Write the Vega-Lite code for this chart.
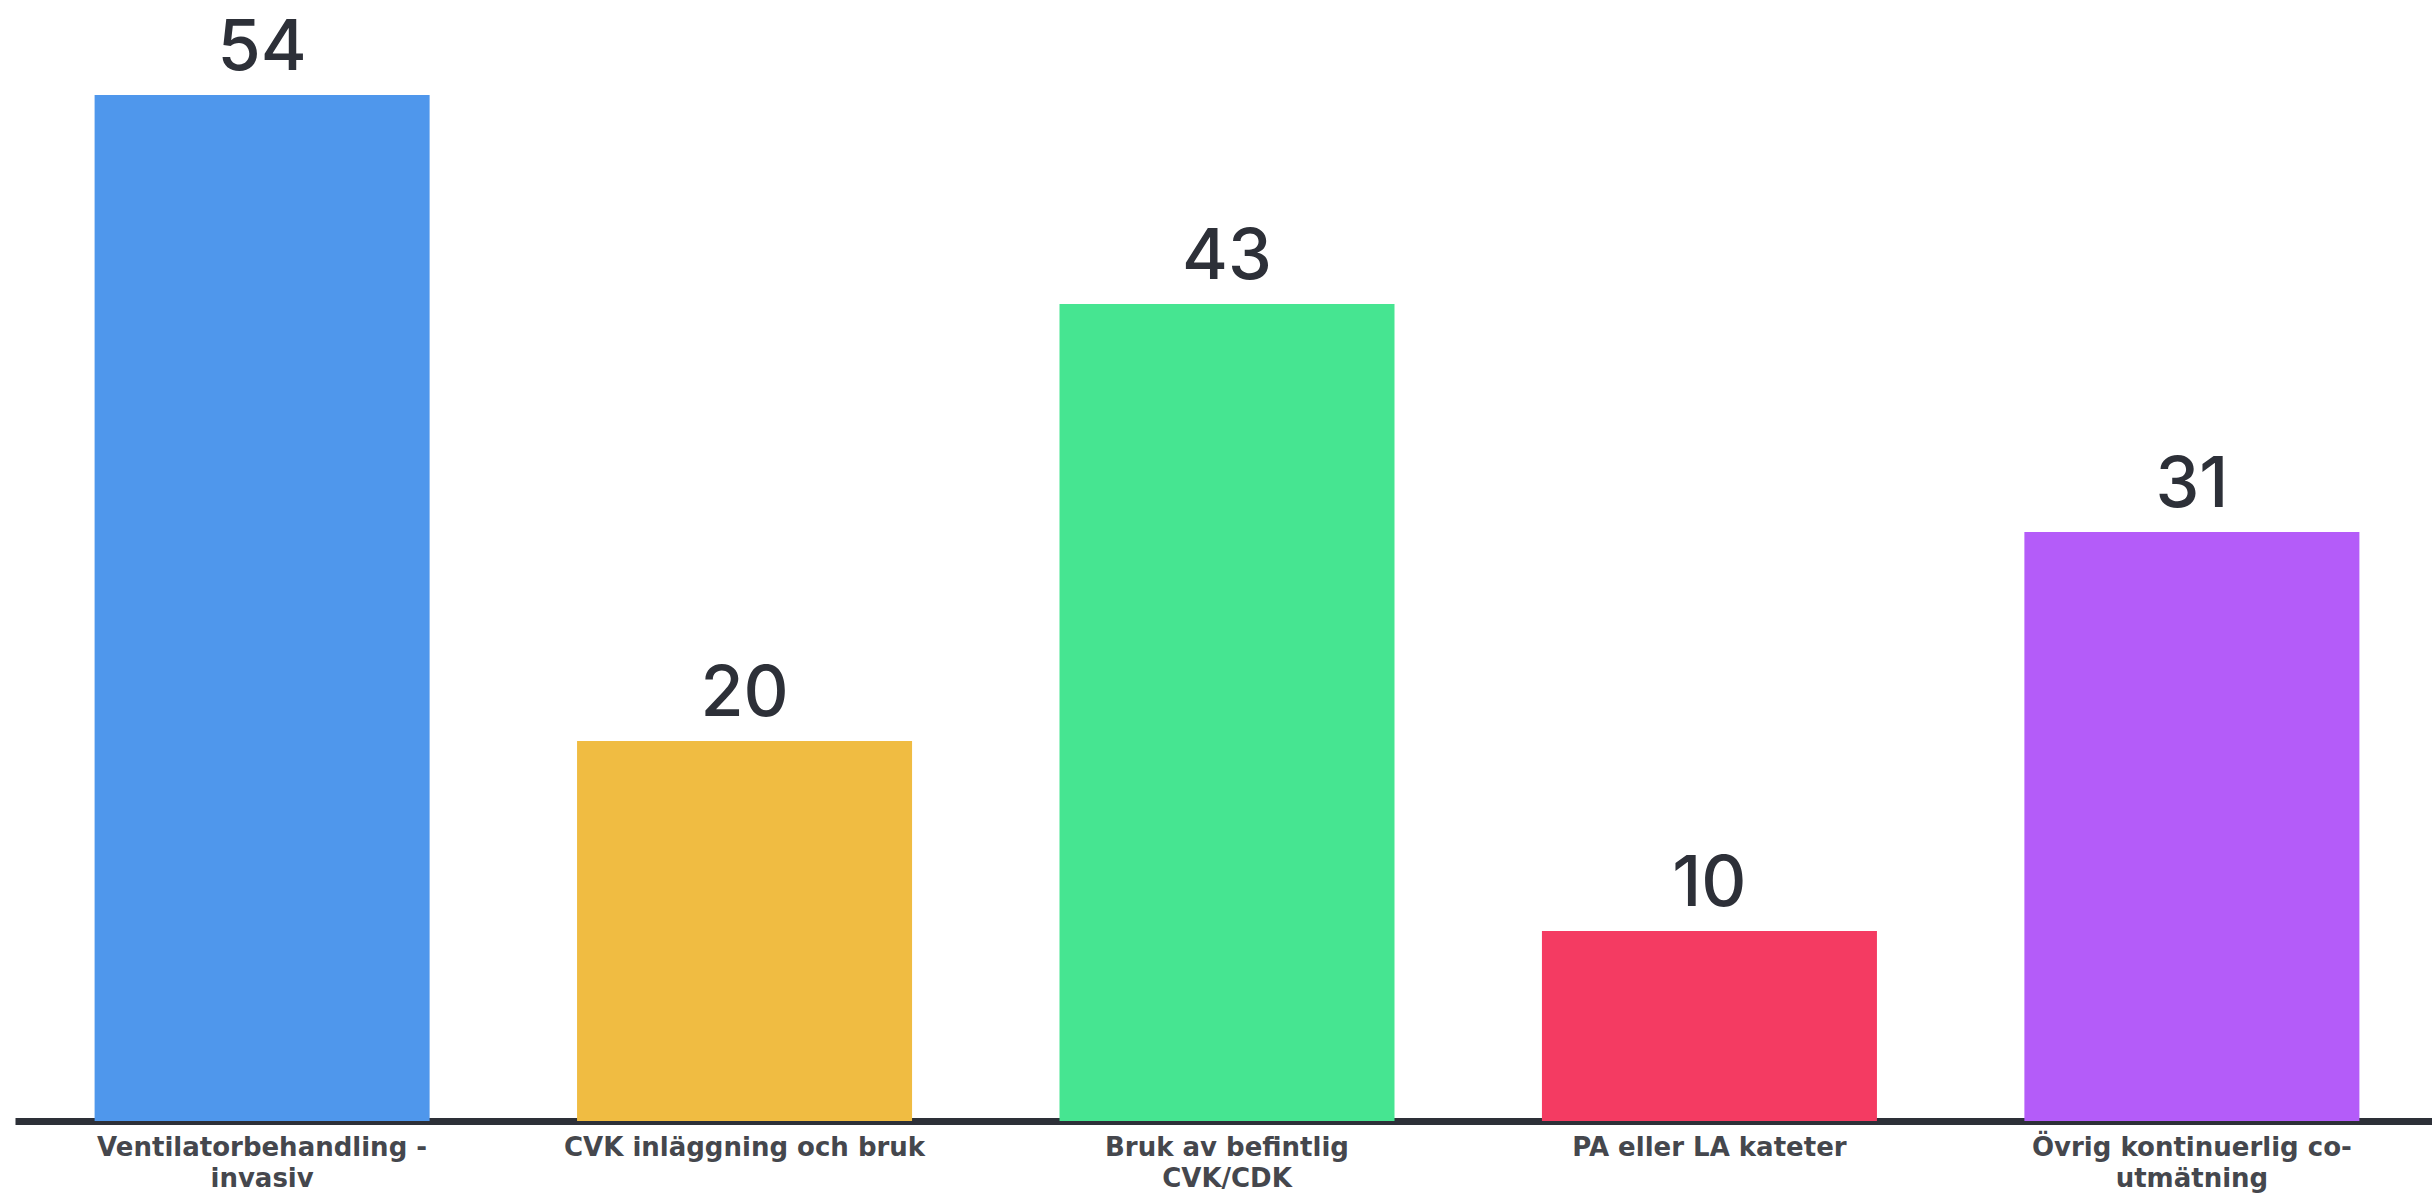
{
  "$schema": "https://vega.github.io/schema/vega-lite/v6.json",
  "width": 2424,
  "height": 1121,
  "autosize": {"type": "none"},
  "padding": {"left": 15, "top": 0, "right": 0, "bottom": 75},
  "background": "white",
  "config": {"view": {"stroke": null}},
  "data": {"values": [
    {"kategori": "Ventilatorbehandling -\ninvasiv", "antal": 54},
    {"kategori": "CVK inläggning och bruk", "antal": 20},
    {"kategori": "Bruk av befintlig\nCVK/CDK", "antal": 43},
    {"kategori": "PA eller LA kateter", "antal": 10},
    {"kategori": "Övrig kontinuerlig co-\nutmätning", "antal": 31}
  ]},
  "encoding": {
    "x": {
      "field": "kategori", "type": "nominal", "sort": null,
      "scale": {"paddingInner": 0.3056, "paddingOuter": 0.165},
      "axis": {
        "title": null, "labelAngle": 0, "ticks": false,
        "domainColor": "#2d3038", "domainWidth": 7,
        "labelExpr": "split(datum.value, '\\n')",
        "labelFont": "DejaVu Sans", "labelFontSize": 26, "labelFontWeight": "bold", "labelColor": "#45474d",
        "labelLineHeight": 31, "labelPadding": 13, "labelBaseline": "top",
        "labelLimit": 0
      }
    },
    "y": {"field": "antal", "type": "quantitative", "scale": {"domain": [0, 59], "nice": false}, "axis": null}
  },
  "layer": [
    {
      "mark": {"type": "bar"},
      "encoding": {
        "color": {
          "field": "kategori", "type": "nominal", "sort": null, "legend": null,
          "scale": {"range": ["#4f97ec", "#f0bc42", "#46e591", "#f43b62", "#b45cf9"]}
        }
      }
    },
    {
      "mark": {"type": "text", "baseline": "alphabetic", "dy": -25, "font": "Inter", "fontSize": 70, "fontWeight": 500, "color": "#2d3038"},
      "encoding": {"text": {"field": "antal", "type": "quantitative"}}
    }
  ]
}
